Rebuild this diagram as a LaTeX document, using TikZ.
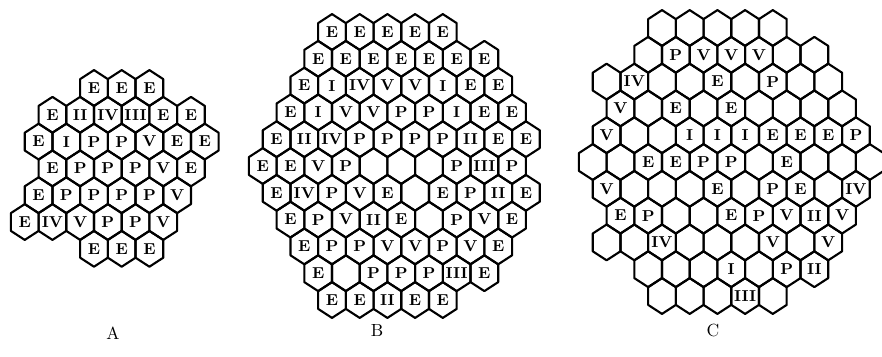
\documentclass[tikz,border=0pt]{standalone}
\usepackage{tikz}
\usetikzlibrary{positioning}

\newcommand{\hexw}{27.7}
\newcommand{\hexh}{26.8}
% one row of cells: panel, x0, y0, row, first column, labels
\newcommand{\hexrow}[6]{%
  \foreach \lab [count=\i from 0] in {#6} {
    \pgfmathsetmacro{\cx}{#2+(#5+\i)*\hexw}
    \pgfmathsetmacro{\cy}{#3+#4*\hexh}
    \node[cell] (#1-#4-\i) at (\cx,\cy) {\lab};
    \draw[hexline] (#1-#4-\i.center) ++(0,-17.9) -- ++(13.85,9) -- ++(0,17.8)
      -- ++(-13.85,9) -- ++(-13.85,-9) -- ++(0,-17.8) -- cycle;
  }%
}

\begin{document}
\begin{tikzpicture}[x=0.02cm, y=-0.02cm,
  cell/.style={inner sep=0pt, font=\fontsize{9}{10}\selectfont\bfseries},
  hexline/.style={draw=black, line width=1.2pt, line join=round},
  panellabel/.style={font=\fontsize{10}{12}\selectfont}]

  \useasboundingbox (0,0) rectangle (882,356);
  \clip (0,0) rectangle (882,356);

  % panel A
  \hexrow{A}{94}{88}{0}{0}{E,E,E}
  \hexrow{A}{94}{88}{1}{-1.5}{E,II,IV,III,E,E}
  \hexrow{A}{94}{88}{2}{-2}{E,I,P,P,V,E,E}
  \hexrow{A}{94}{88}{3}{-1.5}{E,P,P,P,V,E}
  \hexrow{A}{94}{88}{4}{-2}{E,P,P,P,P,V}
  \hexrow{A}{94}{88}{5}{-2.5}{E,IV,V,P,P,V}
  \hexrow{A}{94}{88}{6}{0}{E,E,E}

  % panel B
  \hexrow{B}{332}{32}{0}{0}{E,E,E,E,E}
  \hexrow{B}{332}{32}{1}{-0.5}{E,E,E,E,E,E,E}
  \hexrow{B}{332}{32}{2}{-1}{E,I,IV,V,V,I,E,E}
  \hexrow{B}{332}{32}{3}{-1.5}{E,I,V,V,P,P,I,E,E}
  \hexrow{B}{332}{32}{4}{-2}{E,II,IV,P,P,P,P,II,E,E}
  \hexrow{B}{332}{32}{5}{-2.5}{E,E,V,P,{},{},{},P,III,P}
  \hexrow{B}{332}{32}{6}{-2}{E,IV,P,V,E,{},E,P,II,E}
  \hexrow{B}{332}{32}{7}{-1.5}{E,P,V,II,E,{},P,V,E}
  \hexrow{B}{332}{32}{8}{-1}{E,P,P,V,V,P,V,E}
  \hexrow{B}{332}{32}{9}{-0.5}{E,{},P,P,P,III,E}
  \hexrow{B}{332}{32}{10}{0}{E,E,II,E,E}

  % panel C
  \hexrow{C}{662}{28}{0}{0}{{},{},{},{},{}}
  \hexrow{C}{662}{28}{1}{-0.5}{{},P,V,V,V,{},{}}
  \hexrow{C}{662}{28}{2}{-2}{{},IV,{},{},E,{},P,{},{}}
  \hexrow{C}{662}{28}{3}{-1.5}{V,{},E,{},E,{},{},{},{}}
  \hexrow{C}{662}{28}{4}{-2}{V,{},{},I,I,I,E,E,E,P}
  \hexrow{C}{662}{28}{5}{-2.5}{{},{},E,E,P,P,{},E,{},{},{}}
  \hexrow{C}{662}{28}{6}{-2}{V,{},{},{},E,{},P,E,{},IV}
  \hexrow{C}{662}{28}{7}{-1.5}{E,P,{},{},E,P,V,II,V}
  \hexrow{C}{662}{28}{8}{-2}{{},{},IV,{},{},{},V,{},V}
  \hexrow{C}{662}{28}{9}{-0.5}{{},{},{},I,{},P,II}
  \hexrow{C}{662}{28}{10}{0}{{},{},{},III,{}}

  \node[panellabel] (labA) at (113,333) {A};
  \node[panellabel] (labB) at (377,330) {B};
  \node[panellabel] (labC) at (713,330) {C};

\end{tikzpicture}
\end{document}
